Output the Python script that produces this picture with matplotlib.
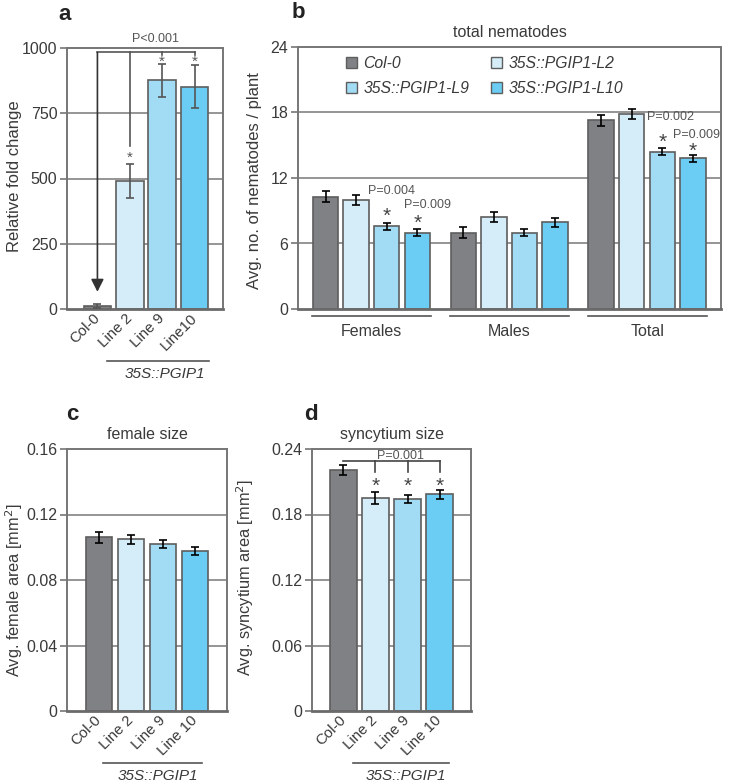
import matplotlib
matplotlib.use("Agg")
import matplotlib.pyplot as plt
from matplotlib.patches import Patch
from matplotlib.transforms import blended_transform_factory

plt.rcParams['font.family'] = ['Liberation Sans', 'DejaVu Sans']

# ---------------- data ----------------
lines = ["Col-0", "35S::PGIP1-L2", "35S::PGIP1-L9", "35S::PGIP1-L10"]
colors = ["#808184", "#d5ecf9", "#a2dbf4", "#6bcdf4"]

a_labels = ["Col-0", "Line 2", "Line 9", "Line10"]
a_vals = [10, 490, 876, 852]
a_errs = [8, 66, 62, 82]

b_groups = ["Females", "Males", "Total"]
b_vals = [[10.3, 10.0, 7.6, 7.0],
          [7.0, 8.4, 7.0, 7.95],
          [17.3, 17.9, 14.4, 13.8]]
b_errs = [[0.5, 0.45, 0.32, 0.35],
          [0.5, 0.45, 0.3, 0.4],
          [0.5, 0.45, 0.32, 0.35]]

cd_labels = ["Col-0", "Line 2", "Line 9", "Line 10"]
c_vals = [0.106, 0.1048, 0.102, 0.0975]
c_errs = [0.0033, 0.0027, 0.0023, 0.0025]
d_vals = [0.2205, 0.195, 0.194, 0.1985]
d_errs = [0.0047, 0.0054, 0.0035, 0.004]

a_ticks = [0, 250, 500, 750, 1000]
b_ticks = [0, 6, 12, 18, 24]
c_ticks = [0, 0.04, 0.08, 0.12, 0.16]
d_ticks = [0, 0.06, 0.12, 0.18, 0.24]
c_ticklabels = ["0", "0.04", "0.08", "0.12", "0.16"]
d_ticklabels = ["0", "0.06", "0.12", "0.18", "0.24"]

# ---------------- style ----------------
W, H = 750, 784
fig = plt.figure(figsize=(W / 100, H / 100), dpi=100)

SPINE = "#767676"
GRID = "#8c8c8c"
EDGE = "#5e5e5e"
TXT = "#3a3a3a"


def px_axes(x0, x1, y0, y1):
    return fig.add_axes([x0 / W, (H - y1) / H, (x1 - x0) / W, (y1 - y0) / H])


def style(ax, ticks, ticklabels=None):
    for s in ax.spines.values():
        s.set_color(SPINE)
        s.set_linewidth(1.4)
    ax.spines['bottom'].set_linewidth(2.0)
    ax.spines['bottom'].set_color("#6a6a6a")
    ax.set_yticks(ticks)
    if ticklabels is not None:
        ax.set_yticklabels(ticklabels)
    ax.set_ylim(ticks[0], ticks[-1])
    ax.tick_params(axis='y', length=5, width=1.2, color=SPINE, labelsize=11.5,
                   labelcolor=TXT, pad=2)
    ax.tick_params(axis='x', length=0, labelsize=10.8, labelcolor=TXT)
    for t in ticks[1:-1]:
        ax.axhline(t, color=GRID, lw=1.3, zorder=0)


def label_below(ax, x0, x1, text, shift):
    tr = blended_transform_factory(ax.transData, ax.transAxes)
    ax.plot([x0, x1], [-0.2, -0.2], color="#555555", lw=1.2, transform=tr, clip_on=False)
    ax.text((x0 + x1) / 2 + shift, -0.25, text, transform=tr, ha='center', va='center',
            fontsize=11, style='italic', color=TXT)


def rot_labels(ax, labels):
    ax.set_xticks(range(len(labels)))
    ax.set_xticklabels(labels, rotation=45, ha='right', va='center',
                       rotation_mode='anchor')
    for t in ax.get_xticklabels():
        t.set_y(-0.008)


# ---------------- panel a ----------------
ax = px_axes(67, 223, 48, 309)
x = list(range(4))
ax.bar(x, a_vals, width=0.85, color=colors, edgecolor=EDGE, lw=1.2, zorder=2)
ax.errorbar(x, a_vals, yerr=a_errs, fmt='none', ecolor="#555555", elinewidth=1.2,
            capsize=3, capthick=1.2, zorder=3)
ax.set_xlim(-0.94, 3.88)
style(ax, a_ticks)
rot_labels(ax, a_labels)
ax.set_ylabel("Relative fold change", fontsize=12, color=TXT)
ax.yaxis.set_label_coords(-0.29, 0.51)
# bracket
by = 983
ax.plot([0, 3], [by, by], color="#555555", lw=1.2, clip_on=False, zorder=4)
ax.plot([1, 1], [by, 625], color="#555555", lw=1.2, zorder=4)
ax.plot([2, 2], [by, 972], color="#555555", lw=1.2, zorder=4)
ax.plot([3, 3], [by, 972], color="#555555", lw=1.2, zorder=4)
ax.annotate("", xy=(0, 66), xytext=(0, by),
            arrowprops=dict(arrowstyle="-|>,head_width=0.38,head_length=0.75",
                            color="#333333", lw=1.2, shrinkA=0, shrinkB=0), zorder=4)
ax.text(1.8, 1034, "P<0.001", ha='center', va='center', fontsize=9, color="#555555")
for xi, yv in [(1, 578), (2, 948), (3, 948)]:
    ax.text(xi, yv, "*", ha='center', va='center', fontsize=11, color="#555555", zorder=6)
label_below(ax, 0.29, 3.46, "35S::PGIP1", 0.2)

# ---------------- panel b ----------------
ax = px_axes(298, 721, 47, 309)
for g in range(3):
    pos = [4.5 * g + i for i in range(4)]
    ax.bar(pos, b_vals[g], width=0.83, color=colors, edgecolor=EDGE, lw=1.2, zorder=2)
    ax.errorbar(pos, b_vals[g], yerr=b_errs[g], fmt='none', ecolor="black",
                elinewidth=1.2, capsize=3, capthick=1.2, zorder=3)
ax.set_xlim(-0.9, 12.92)
style(ax, b_ticks)
ax.set_xticks([])
ax.set_ylabel("Avg. no. of nematodes / plant", fontsize=12, color=TXT)
ax.yaxis.set_label_coords(-0.085, 0.49)
ax.set_title("total nematodes", fontsize=11.5, color=TXT, pad=7)
tr = blended_transform_factory(ax.transData, ax.transAxes)
for g, name in enumerate(b_groups):
    x0, x1 = 4.5 * g - 0.44, 4.5 * g + 3.45
    ax.plot([x0, x1], [-0.027, -0.027], color="#555555", lw=1.2, transform=tr, clip_on=False)
    ax.text((x0 + x1) / 2, -0.086, name, transform=tr, ha='center', va='center',
            fontsize=11.5, color=TXT)
ptxt = [(2.17, 10.84, "P=0.004", 'center'), (3.32, 9.53, "P=0.009", 'center'),
        (10.5, 17.59, "P=0.002", 'left'), (12.12, 15.94, "P=0.009", 'center')]
for xi, yv, s, ha in ptxt:
    ax.text(xi, yv, s, ha=ha, va='center', fontsize=9, color="#555555")
for xi, yv in [(2, 8.5), (3, 7.85), (11, 15.25), (12, 14.45)]:
    ax.text(xi, yv, "*", ha='center', va='center', fontsize=15, color="#444444")
handles = [Patch(facecolor=colors[i], edgecolor=EDGE, lw=1.0) for i in [0, 2, 1, 3]]
labs = [lines[i] for i in [0, 2, 1, 3]]
ax.legend(handles, labs, ncol=2, frameon=False, loc='upper left',
          bbox_to_anchor=(0.08, 1.02), prop={'style': 'italic', 'size': 11.3},
          handlelength=0.7, handleheight=0.7, handletextpad=0.4,
          columnspacing=1.4, labelspacing=0.65, labelcolor=TXT)

# ---------------- panel c ----------------
ax = px_axes(67, 227, 449, 711)
ax.bar(x, c_vals, width=0.83, color=colors, edgecolor=EDGE, lw=1.2, zorder=2)
ax.errorbar(x, c_vals, yerr=c_errs, fmt='none', ecolor="black", elinewidth=1.2,
            capsize=3, capthick=1.2, zorder=3)
ax.set_xlim(-1.0, 4.0)
style(ax, c_ticks, c_ticklabels)
rot_labels(ax, cd_labels)
ax.set_ylabel("Avg. female area [mm$^2$]", fontsize=11.8, color=TXT)
ax.yaxis.set_label_coords(-0.265, 0.46)
ax.set_title("female size", fontsize=11.5, color=TXT, pad=7)
label_below(ax, 0.13, 3.22, "35S::PGIP1", 0.15)

# ---------------- panel d ----------------
ax = px_axes(312, 471, 449, 711)
ax.bar(x, d_vals, width=0.83, color=colors, edgecolor=EDGE, lw=1.2, zorder=2)
ax.errorbar(x, d_vals, yerr=d_errs, fmt='none', ecolor="black", elinewidth=1.2,
            capsize=3, capthick=1.2, zorder=3)
ax.set_xlim(-0.98, 3.98)
style(ax, d_ticks, d_ticklabels)
rot_labels(ax, cd_labels)
ax.set_ylabel("Avg. syncytium area [mm$^2$]", fontsize=11.8, color=TXT)
ax.yaxis.set_label_coords(-0.35, 0.51)
ax.set_title("syncytium size", fontsize=11.5, color=TXT, pad=7)
by = 0.2287
ax.plot([0, 3], [by, by], color="#444444", lw=1.2, zorder=4)
for xi in [1, 2, 3]:
    ax.plot([xi, xi], [by, 0.2187], color="#444444", lw=1.2, zorder=4)
ax.text(1.78, 0.2336, "P=0.001", ha='center', va='center', fontsize=9, color="#555555")
for xi in [1, 2, 3]:
    ax.text(xi, 0.206, "*", ha='center', va='center', fontsize=15, color="#444444")
label_below(ax, 0.3, 3.3, "35S::PGIP1", 0.15)

# ---------------- panel letters ----------------
for s, px, py in [("a", 65, 15), ("b", 298, 12), ("c", 72, 415), ("d", 311, 415)]:
    fig.text(px / W, 1 - py / H, s, fontsize=16, fontweight='bold', ha='center',
             va='center', color="#222222")

fig.savefig("out.png", dpi=100)
